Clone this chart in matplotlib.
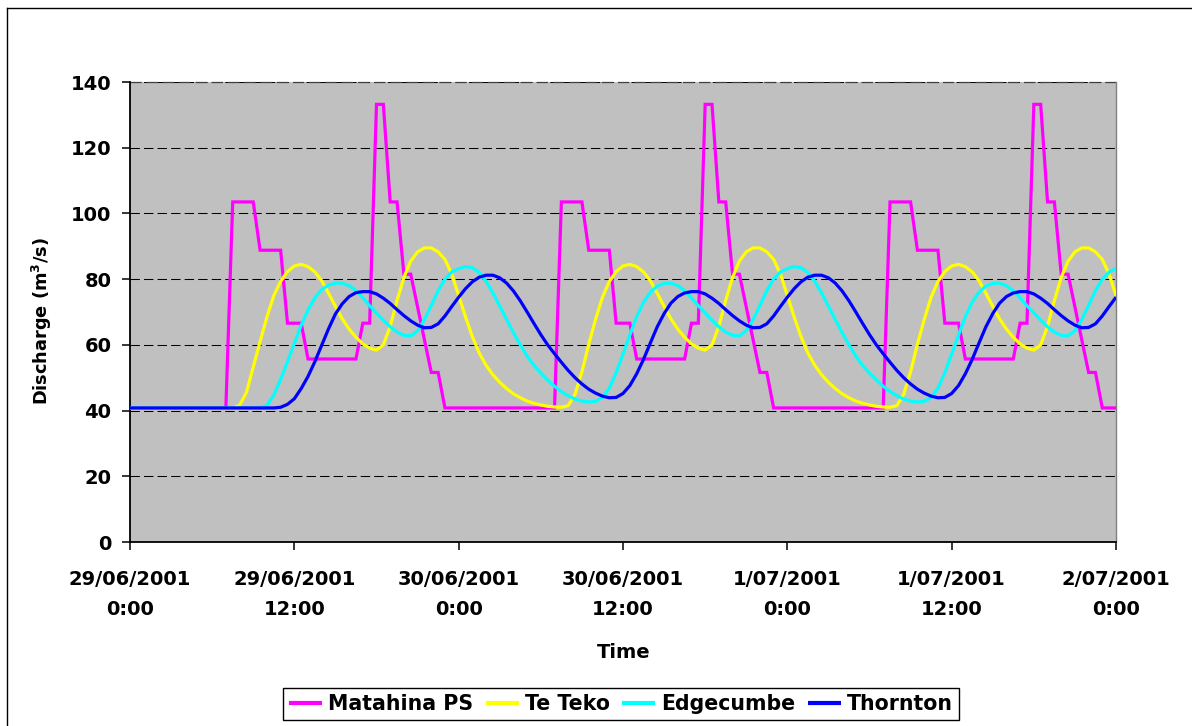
import numpy as np
import matplotlib
matplotlib.use("Agg")
import matplotlib.pyplot as plt
from matplotlib.lines import Line2D

# Half-hourly time axis: hours since 29/06/2001 0:00
hours = np.arange(0, 72.5, 0.5)

tick_hours = [0, 12, 24, 36, 48, 60, 72]
tick_labels = [
    "29/06/2001\n0:00", "29/06/2001\n12:00",
    "30/06/2001\n0:00", "30/06/2001\n12:00",
    "1/07/2001\n0:00", "1/07/2001\n12:00",
    "2/07/2001\n0:00",
]

# Discharge (m3/s), one row = 6 hours of half-hourly values
matahina_ps = [
    # 29/06
    40.8, 40.8, 40.8, 40.8, 40.8, 40.8, 40.8, 40.8, 40.8, 40.8, 40.8, 40.8,
    40.8, 40.8, 40.8, 103.5, 103.5, 103.5, 103.5, 88.8, 88.8, 88.8, 88.8, 66.6,
    66.6, 66.6, 55.7, 55.7, 55.7, 55.7, 55.7, 55.7, 55.7, 55.7, 66.6, 66.6,
    133.2, 133.2, 103.5, 103.5, 81.5, 81.5, 71.5, 61.5, 51.6, 51.6, 40.8, 40.8,
    # 30/06
    40.8, 40.8, 40.8, 40.8, 40.8, 40.8, 40.8, 40.8, 40.8, 40.8, 40.8, 40.8,
    40.8, 40.8, 40.8, 103.5, 103.5, 103.5, 103.5, 88.8, 88.8, 88.8, 88.8, 66.6,
    66.6, 66.6, 55.7, 55.7, 55.7, 55.7, 55.7, 55.7, 55.7, 55.7, 66.6, 66.6,
    133.2, 133.2, 103.5, 103.5, 81.5, 81.5, 71.5, 61.5, 51.6, 51.6, 40.8, 40.8,
    # 1/07
    40.8, 40.8, 40.8, 40.8, 40.8, 40.8, 40.8, 40.8, 40.8, 40.8, 40.8, 40.8,
    40.8, 40.8, 40.8, 103.5, 103.5, 103.5, 103.5, 88.8, 88.8, 88.8, 88.8, 66.6,
    66.6, 66.6, 55.7, 55.7, 55.7, 55.7, 55.7, 55.7, 55.7, 55.7, 66.6, 66.6,
    133.2, 133.2, 103.5, 103.5, 81.5, 81.5, 71.5, 61.5, 51.6, 51.6, 40.8, 40.8,
    # 2/07
    40.8,
]

te_teko = [
    40.8, 40.8, 40.8, 40.8, 40.8, 40.8, 40.8, 40.8, 40.8, 40.8, 40.8, 40.8,
    40.8, 40.8, 40.8, 40.8, 41.6, 45.5, 53.3, 61.0, 68.5, 75.0, 79.3, 82.3,
    84.0, 84.5, 83.8, 82.2, 79.5, 75.7, 71.7, 67.9, 64.8, 62.3, 60.3, 59.0,
    58.4, 60.0, 65.6, 73.5, 80.5, 85.5, 88.3, 89.5, 89.5, 88.3, 86.0, 81.5,
    75.0, 68.5, 62.5, 57.5, 53.8, 50.9, 48.6, 46.7, 45.1, 43.9, 42.9, 42.2,
    41.7, 41.3, 41.1, 41.0, 41.5, 45.0, 51.8, 60.2, 67.8, 74.5, 79.3, 82.3,
    84.0, 84.5, 83.8, 82.2, 79.5, 75.7, 71.7, 67.9, 64.8, 62.3, 60.3, 59.0,
    58.4, 60.0, 65.6, 73.5, 80.5, 85.5, 88.3, 89.5, 89.5, 88.3, 86.0, 81.5,
    75.0, 68.5, 62.5, 57.5, 53.8, 50.9, 48.6, 46.7, 45.1, 43.9, 42.9, 42.2,
    41.7, 41.3, 41.1, 41.0, 41.5, 45.0, 51.8, 60.2, 67.8, 74.5, 79.3, 82.3,
    84.0, 84.5, 83.8, 82.2, 79.5, 75.7, 71.7, 67.9, 64.8, 62.3, 60.3, 59.0,
    58.4, 60.0, 65.6, 73.5, 80.5, 85.5, 88.3, 89.5, 89.5, 88.3, 86.0, 81.5,
    75.0,
]

edgecumbe = [
    40.8, 40.8, 40.8, 40.8, 40.8, 40.8, 40.8, 40.8, 40.8, 40.8, 40.8, 40.8,
    40.8, 40.8, 40.8, 40.8, 40.8, 40.8, 40.8, 40.8, 41.6, 44.7, 49.5, 54.9,
    60.4, 66.0, 70.6, 74.3, 76.8, 78.2, 78.8, 78.8, 78.0, 76.5, 74.3, 71.9,
    69.7, 67.5, 65.5, 63.9, 62.9, 62.7, 64.3, 67.7, 72.0, 76.5, 80.0, 82.2,
    83.2, 83.8, 83.5, 82.0, 79.4, 75.8, 71.8, 67.7, 63.7, 60.0, 56.6, 53.7,
    51.4, 49.3, 47.4, 45.8, 44.5, 43.5, 42.9, 42.6, 42.8, 44.0, 46.8, 51.5,
    57.2, 63.0, 68.6, 73.0, 76.0, 77.9, 78.7, 78.8, 78.0, 76.5, 74.3, 71.9,
    69.7, 67.5, 65.5, 63.9, 62.9, 62.7, 64.3, 67.7, 72.0, 76.5, 80.0, 82.2,
    83.2, 83.8, 83.5, 82.0, 79.4, 75.8, 71.8, 67.7, 63.7, 60.0, 56.6, 53.7,
    51.4, 49.3, 47.4, 45.8, 44.5, 43.5, 42.9, 42.6, 42.8, 44.0, 46.8, 51.5,
    57.2, 63.0, 68.6, 73.0, 76.0, 77.9, 78.7, 78.8, 78.0, 76.5, 74.3, 71.9,
    69.7, 67.5, 65.5, 63.9, 62.9, 62.7, 64.3, 67.7, 72.0, 76.5, 80.0, 82.2,
    83.2,
]

thornton = [
    40.8, 40.8, 40.8, 40.8, 40.8, 40.8, 40.8, 40.8, 40.8, 40.8, 40.8, 40.8,
    40.8, 40.8, 40.8, 40.8, 40.8, 40.8, 40.8, 40.8, 40.8, 40.8, 41.0, 41.9,
    43.6, 46.7, 50.4, 54.9, 59.9, 64.9, 69.4, 72.5, 74.7, 75.9, 76.2, 76.2,
    75.5, 74.2, 72.6, 70.7, 68.9, 67.3, 66.0, 65.2, 65.3, 66.4, 68.8, 71.7,
    74.5, 77.1, 79.2, 80.6, 81.2, 81.2, 80.4, 78.8, 76.4, 73.4, 70.0, 66.5,
    63.1, 60.0, 57.3, 54.7, 52.2, 50.0, 48.1, 46.5, 45.3, 44.4, 43.9, 44.0,
    45.2, 47.6, 51.2, 55.6, 60.6, 65.5, 69.5, 72.7, 74.7, 75.8, 76.2, 76.2,
    75.5, 74.2, 72.6, 70.7, 68.9, 67.3, 66.0, 65.2, 65.3, 66.4, 68.8, 71.7,
    74.5, 77.1, 79.2, 80.6, 81.2, 81.2, 80.4, 78.8, 76.4, 73.4, 70.0, 66.5,
    63.1, 60.0, 57.3, 54.7, 52.2, 50.0, 48.1, 46.5, 45.3, 44.4, 43.9, 44.0,
    45.2, 47.6, 51.2, 55.6, 60.6, 65.5, 69.5, 72.7, 74.7, 75.8, 76.2, 76.2,
    75.5, 74.2, 72.6, 70.7, 68.9, 67.3, 66.0, 65.2, 65.3, 66.4, 68.8, 71.7,
    74.5,
]

series_names = ["Matahina PS", "Te Teko", "Edgecumbe", "Thornton"]
series_colors = ["#FF00FF", "#FFFF00", "#00FFFF", "#0000FF"]

plt.rcParams["font.family"] = ["DejaVu Sans"]
plt.rcParams["font.weight"] = "bold"

W, H = 1192, 726
fig = plt.figure(figsize=(W / 100, H / 100), dpi=100)
fig.patch.set_facecolor("white")

ax = fig.add_axes([130 / W, 1 - 542 / H, 986 / W, 460 / H])
ax.set_facecolor("#C0C0C0")

for values, name, color in zip([matahina_ps, te_teko, edgecumbe, thornton],
                               series_names, series_colors):
    join = "miter" if name == "Matahina PS" else "round"
    ax.plot(hours, values, color=color, linewidth=2.3, label=name,
            solid_joinstyle=join, solid_capstyle="butt", zorder=3)

ax.set_xlim(0, 72)
ax.set_ylim(0, 140)
ax.set_yticks(range(0, 141, 20))
ax.set_xticks(tick_hours)
ax.set_xticklabels(tick_labels, linespacing=1.72)

ax.yaxis.grid(True, color="black", linestyle=(0, (9, 4)), linewidth=0.75, zorder=1)
ax.set_axisbelow(True)
# dashed border along the top of the plot area
ax.axhline(140, color="#404040", linestyle=(0, (9, 4)), linewidth=0.9,
           clip_on=False, zorder=2)

for side in ("left", "bottom"):
    ax.spines[side].set_color("black")
    ax.spines[side].set_linewidth(1.3)
ax.spines["top"].set_visible(False)
ax.spines["right"].set_color("#808080")
ax.spines["right"].set_linewidth(1.0)

ax.tick_params(axis="both", direction="out", length=5.5, width=1.1,
               color="black", labelsize=14)
ax.tick_params(axis="y", pad=8)
ax.tick_params(axis="x", pad=15)
for lbl in ax.get_xticklabels() + ax.get_yticklabels():
    lbl.set_fontweight("bold")

fig.text(624 / W, 1 - 652 / H, "Time", ha="center", va="center",
         fontsize=14, fontweight="bold")
fig.text(42 / W, 1 - 321 / H, r"Discharge (m$^{\mathbf{3}}$/s)", rotation=90,
         ha="center", va="center", fontsize=12.8, fontweight="bold")

leg = fig.legend(loc="center", bbox_to_anchor=(621 / W, 1 - 704 / H), ncol=4,
                 frameon=True, fancybox=False, edgecolor="black", framealpha=1,
                 prop={"weight": "bold", "size": 14.8}, handlelength=1.6,
                 handletextpad=0.3, columnspacing=0.6, borderpad=0.3,
                 borderaxespad=0)
leg.get_frame().set_linewidth(1.0)
for h in leg.legend_handles:
    h.set_linewidth(3)

# outer chart border
fig.add_artist(Line2D([7.5 / W, 7.5 / W], [0, 1 - 7.5 / H], transform=fig.transFigure,
                      color="black", linewidth=1.0))
fig.add_artist(Line2D([7.5 / W, 1], [1 - 7.5 / H, 1 - 7.5 / H], transform=fig.transFigure,
                      color="black", linewidth=1.0))

fig.savefig("out.png", dpi=100)
